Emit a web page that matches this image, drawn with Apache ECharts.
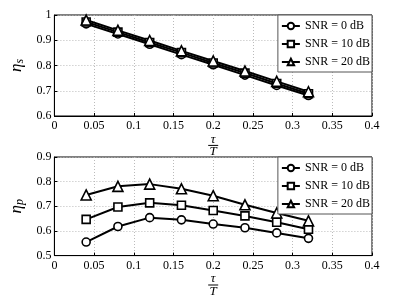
<!DOCTYPE html>
<html>
<head>
<meta charset="utf-8">
<script src="https://cdn.jsdelivr.net/npm/echarts@6/dist/echarts.min.js"></script>
<style>html,body{margin:0;padding:0;background:#fff}#c{width:411px;height:299px}</style>
</head>
<body>
<div id="c"></div>
<script>
var tau = [0.04, 0.08, 0.12, 0.16, 0.20, 0.24, 0.28, 0.32];
var seriesNames = ['SNR = 0 dB', 'SNR = 10 dB', 'SNR = 20 dB'];
var symbols = ['circle', 'rect', 'triangle'];
var etaS_0 = [0.965, 0.925, 0.884, 0.843, 0.803, 0.762, 0.721, 0.681];
var etaS_10 = [0.972, 0.932, 0.891, 0.851, 0.810, 0.770, 0.729, 0.688];
var etaS_20 = [0.980, 0.939, 0.899, 0.858, 0.818, 0.778, 0.737, 0.696];
var etaP_0 = [0.555, 0.618, 0.654, 0.645, 0.628, 0.613, 0.592, 0.570];
var etaP_10 = [0.647, 0.697, 0.714, 0.704, 0.683, 0.661, 0.635, 0.607];
var etaP_20 = [0.746, 0.781, 0.790, 0.771, 0.743, 0.706, 0.673, 0.641];
var xTicks = {min: 0, max: 0.4, interval: 0.05};
var yTicksS = {min: 0.6, max: 1.0, interval: 0.1};
var yTicksP = {min: 0.5, max: 0.9, interval: 0.1};

var FONT = 'Liberation Serif';
function pairs(ys) { return tau.map(function (t, i) { return [t, ys[i]]; }); }
function mkX(idx) {
  return {
    type: 'value', gridIndex: idx, min: xTicks.min, max: xTicks.max, interval: xTicks.interval,
    axisLine: {show: true, lineStyle: {color: '#000', width: 1}},
    axisTick: {show: true, inside: true, length: 3, lineStyle: {color: '#000'}},
    axisLabel: {color: '#000', fontFamily: FONT, fontSize: 12, margin: 4},
    splitLine: {show: true, lineStyle: {color: '#bbb', type: [1, 2], width: 1}},
    name: '{n|τ}\n{l| }\n{d|T}', nameLocation: 'middle', nameGap: 13,
    nameTextStyle: {
      rich: {
        n: {fontFamily: FONT, fontStyle: 'italic', fontSize: 13, color: '#000', lineHeight: 10, align: 'center'},
        l: {width: 10, height: 1, lineHeight: 2, backgroundColor: '#000', fontSize: 1, align: 'center'},
        d: {fontFamily: FONT, fontStyle: 'italic', fontSize: 13, color: '#000', lineHeight: 11, align: 'center'}
      }
    }
  };
}
function mkY(idx, t, sub) {
  return {
    type: 'value', gridIndex: idx, min: t.min, max: t.max, interval: t.interval,
    axisLine: {show: true, lineStyle: {color: '#000', width: 1}},
    axisTick: {show: true, inside: true, length: 3, lineStyle: {color: '#000'}},
    axisLabel: {color: '#000', fontFamily: FONT, fontSize: 12, margin: 3},
    splitLine: {show: true, lineStyle: {color: '#bbb', type: [1, 2], width: 1}},
    name: '{a|η}{b|' + sub + '}', nameLocation: 'middle', nameGap: 24, nameRotate: 90,
    nameTextStyle: {
      rich: {
        a: {fontFamily: FONT, fontStyle: 'italic', fontSize: 17, color: '#000', lineHeight: 18},
        b: {fontFamily: FONT, fontStyle: 'italic', fontSize: 12, color: '#000', verticalAlign: 'bottom', lineHeight: 18}
      }
    }
  };
}
function mkSeries(name, sym, ys, idx) {
  return {
    name: name, type: 'line', xAxisIndex: idx, yAxisIndex: idx, data: pairs(ys),
    symbol: sym, symbolSize: sym === 'triangle' ? 10 : 8, showAllSymbol: true,
    lineStyle: {color: '#000', width: 2},
    itemStyle: {color: '#fff', borderColor: '#000', borderWidth: 1.6},
    emphasis: {disabled: true}, animation: false
  };
}
function mkLegend(top) {
  return {
    data: seriesNames, orient: 'vertical', right: 39, top: top,
    backgroundColor: '#fff', borderColor: '#555', borderWidth: 1,
    padding: [5, 2, 4, 3], itemGap: 6, itemWidth: 18, itemHeight: 8, itemTextGap: 1,
    textStyle: {fontFamily: FONT, fontSize: 12, color: '#000'},
    selectedMode: false
  };
}
var chart = echarts.init(document.getElementById('c'), null, {renderer: 'canvas'});
chart.setOption({
  animation: false,
  backgroundColor: '#fff',
  grid: [
    {left: 54, top: 15, width: 318, height: 101, show: true, borderColor: '#000', borderWidth: 1},
    {left: 54, top: 157, width: 318, height: 101, show: true, borderColor: '#000', borderWidth: 1}
  ],
  xAxis: [mkX(0), mkX(1)],
  yAxis: [mkY(0, yTicksS, 's'), mkY(1, yTicksP, 'p')],
  legend: [mkLegend(15), mkLegend(157)],
  series: [
    mkSeries(seriesNames[0], symbols[0], etaS_0, 0),
    mkSeries(seriesNames[1], symbols[1], etaS_10, 0),
    mkSeries(seriesNames[2], symbols[2], etaS_20, 0),
    mkSeries(seriesNames[0], symbols[0], etaP_0, 1),
    mkSeries(seriesNames[1], symbols[1], etaP_10, 1),
    mkSeries(seriesNames[2], symbols[2], etaP_20, 1)
  ]
});
</script>
</body>
</html>
